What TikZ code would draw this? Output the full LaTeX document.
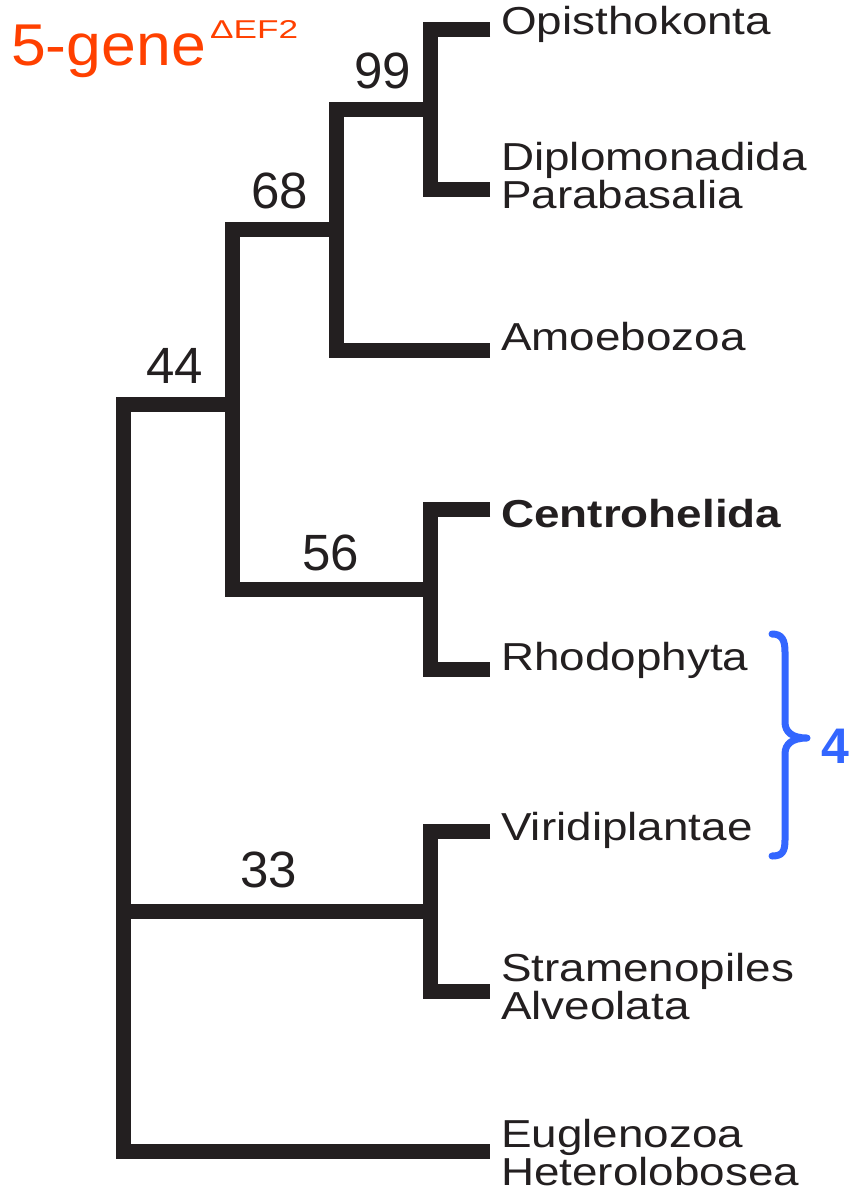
\documentclass[tikz,border=0pt]{standalone}
\usepackage{fontspec}
\setmainfont{Liberation Sans}
\newfontfamily\labfont[FakeStretch=1.175]{Liberation Sans}
\newfontfamily\titlefont[FakeStretch=1.06]{Liberation Sans}
\newfontfamily\numfont{Liberation Sans}
\usepackage{graphicx}
\definecolor{treeblack}{RGB}{35,31,32}
\definecolor{titlered}{RGB}{255,64,0}
\definecolor{braceblue}{RGB}{51,102,255}
\begin{document}
\begin{tikzpicture}[x=1pt,y=-1pt,
  branch/.style={line width=15pt, draw=treeblack, line join=miter, line cap=butt},
  taxon/.style={anchor=base west, inner sep=0pt, text=treeblack, font=\labfont\fontsize{39}{39}\selectfont},
  support/.style={anchor=base, inner sep=0pt, text=treeblack, font=\numfont\fontsize{51}{51}\selectfont},
  bracebox/.style={line width=7pt, draw=braceblue, line cap=round, line join=round},
]
\useasboundingbox (0,0) rectangle (852,1191);

% leaves (branch tips)
\coordinate (lOpi) at (490,29.5);
\coordinate (lDip) at (490,189);
\coordinate (lAmo) at (490,350);
\coordinate (lCen) at (490,509);
\coordinate (lRho) at (490,669);
\coordinate (lVir) at (490,831);
\coordinate (lStr) at (490,991);
\coordinate (lEug) at (490,1151);
% internal nodes
\coordinate (n99) at (430,109);
\coordinate (n68) at (336,229);
\coordinate (n44) at (232,404);
\coordinate (n56) at (430,589);
\coordinate (n33) at (430,911);
\coordinate (root) at (123,911);

% branches
\draw[branch] (lOpi) -| (n99) |- (lDip);
\draw[branch] (n99) -| (n68) |- (lAmo);
\draw[branch] (n68) -| (n44) |- (n56);
\draw[branch] (lCen) -| (n56) |- (lRho);
\draw[branch] (lVir) -| (n33) |- (lStr);
\draw[branch] (n44) -| (root) |- (lEug);
\draw[branch] (n33) -- (root);

% support values
\node[support] (s99) at (383,88) {99};
\node[support] (s68) at (280,208) {68};
\node[support] (s44) at (175,383) {44};
\node[support] (s56) at (331,570) {56};
\node[support] (s33) at (269,887) {33};

% taxon labels
\node[taxon] (tOpi) at (501,34) {Opisthokonta};
\node[taxon] (tDip) at (501,170) {Diplomonadida};
\node[taxon] (tPar) at (501,208) {Parabasalia};
\node[taxon] (tAmo) at (501,350) {Amoebozoa};
\node[taxon, font=\labfont\bfseries\fontsize{39}{39}\selectfont] (tCen) at (501,527) {Centrohelida};
\node[taxon] (tRho) at (501,670) {Rhodophyta};
\node[taxon] (tVir) at (501,840) {Viridiplantae};
\node[taxon] (tStr) at (501,981) {Stramenopiles};
\node[taxon] (tAlv) at (501,1019) {Alveolata};
\node[taxon] (tEug) at (501,1147) {Euglenozoa};
\node[taxon] (tHet) at (501,1185) {Heterolobosea};

% title
\node[anchor=base west, inner sep=0pt, text=titlered, font=\titlefont\fontsize{59}{59}\selectfont] (title) at (11,65) {5-gene};
\node[anchor=base west, inner sep=0pt, text=titlered] (titlesup) at (210,38) {\resizebox{88pt}{18pt}{\numfont ΔEF2}};

% brace and count
\draw[bracebox] (772,634) .. controls (782,634) and (785,640) .. (785,652)
  -- (785,722) .. controls (785,732) and (792,738) .. (807,738)
  .. controls (792,738) and (785,744) .. (785,754)
  -- (785,840) .. controls (785,852) and (782,856) .. (772,856);
\node[anchor=base, inner sep=0pt, text=braceblue, font=\numfont\bfseries\fontsize{50}{50}\selectfont] (count) at (835,763) {4};
\end{tikzpicture}
\end{document}
